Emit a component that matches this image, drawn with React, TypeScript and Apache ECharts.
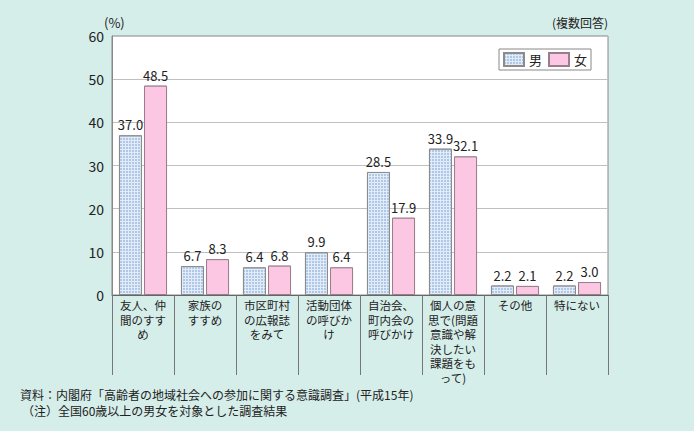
import React, { useEffect, useRef } from "react";
import * as echarts from "echarts";

const categories = [
  "友人、仲\n間のすす\nめ",
  "家族の\nすすめ",
  "市区町村\nの広報誌\nをみて",
  "活動団体\nの呼びか\nけ",
  "自治会、\n町内会の\n呼びかけ",
  "個人の意\n思で(問題\n意識や解\n決したい\n課題をも\nって)",
  "その他",
  "特にない",
];
const maleValues = [37.0, 6.7, 6.4, 9.9, 28.5, 33.9, 2.2, 2.2];
const femaleValues = [48.5, 8.3, 6.8, 6.4, 17.9, 32.1, 2.1, 3.0];
const seriesNames = ["男", "女"];
const yTicks = { min: 0, max: 60, interval: 10 };
const unitLabel = "(%)";
const noteLabel = "(複数回答)";
const sourceLines = [
  "資料：内閣府「高齢者の地域社会への参加に関する意識調査」(平成15年)",
  "（注）全国60歳以上の男女を対象とした調査結果",
];

const FONT = '"Noto Sans CJK JP", "Noto Sans", sans-serif';

export default function App() {
  const ref = useRef<HTMLDivElement>(null);
  useEffect(() => {
    if (!ref.current) return;
    const chart = echarts.init(ref.current, undefined, { renderer: "svg" });
    const labelStyle = {
      show: true,
      position: "top" as const,
      distance: 4,
      color: "#222",
      fontSize: 13,
      fontFamily: FONT,
      formatter: (p: any) => Number(p.value).toFixed(1),
    };
    const femaleColor = "#fcc7e3";
    chart.setOption({
      animation: false,
      backgroundColor: "#d6eeea",
      aria: { enabled: true, decal: { show: true } },
      textStyle: { fontFamily: FONT },
      grid: {
        left: 112,
        top: 36,
        width: 496,
        height: 259,
        show: true,
        backgroundColor: "#ffffff",
        borderColor: "#888888",
        borderWidth: 1,
      },
      legend: {
        show: true,
        right: 103,
        top: 49,
        orient: "horizontal",
        icon: "rect",
        backgroundColor: "#ffffff",
        borderColor: "#888888",
        borderWidth: 1,
        borderRadius: 0,
        padding: [3, 4, 3, 4],
        itemWidth: 20,
        itemHeight: 13,
        itemGap: 6,
        textStyle: { fontSize: 13, color: "#222", fontFamily: FONT },
        data: seriesNames,
      },
      xAxis: {
        type: "category",
        data: categories,
        boundaryGap: true,
        axisLine: { show: true, lineStyle: { color: "#666666", width: 1 } },
        axisTick: { show: true, length: 80, lineStyle: { color: "#777777" } },
        axisLabel: {
          interval: 0,
          margin: 3,
          fontSize: 11.5,
          lineHeight: 14.5,
          color: "#222",
          fontFamily: FONT,
          verticalAlign: "top",
        },
      },
      yAxis: {
        type: "value",
        min: yTicks.min,
        max: yTicks.max,
        interval: yTicks.interval,
        axisLine: { show: true, lineStyle: { color: "#888888" } },
        axisTick: { show: false },
        axisLabel: { margin: 8, fontSize: 14, color: "#222", fontFamily: FONT },
        splitLine: { show: true, lineStyle: { color: "#c0c0c0" } },
      },
      series: [
        {
          name: seriesNames[0],
          type: "bar",
          data: maleValues,
          barWidth: 23,
          barGap: "9%",
          itemStyle: {
            color: "#e2ecf8",
            borderColor: "#8c8c8c",
            borderWidth: 1,
            decal: {
              symbol: "rect",
              symbolSize: 1,
              color: "#b0c8e8",
              dashArrayX: [2, 1],
              dashArrayY: [2, 1],
              rotation: 0,
            },
          },
          label: labelStyle,
        },
        {
          name: seriesNames[1],
          type: "bar",
          data: femaleValues,
          barWidth: 23,
          itemStyle: {
            color: femaleColor,
            borderColor: "#9a7d8c",
            borderWidth: 1,
            decal: {
              symbol: "rect",
              symbolSize: 1,
              color: femaleColor,
              backgroundColor: femaleColor,
              dashArrayX: [1, 0],
              dashArrayY: [1, 0],
              rotation: 0,
            },
          },
          label: labelStyle,
        },
      ],
      graphic: [
        {
          type: "text",
          left: 104,
          top: 16,
          style: { text: unitLabel, fontSize: 13, fill: "#222", fontFamily: FONT },
        },
        {
          type: "text",
          right: 86,
          top: 16,
          style: { text: noteLabel, fontSize: 12, fill: "#222", fontFamily: FONT },
        },
        {
          type: "text",
          left: 20,
          top: 388,
          style: { text: sourceLines[0], fontSize: 12, fill: "#222", fontFamily: FONT },
        },
        {
          type: "text",
          left: 22,
          top: 404,
          style: { text: sourceLines[1], fontSize: 12, fill: "#222", fontFamily: FONT },
        },
      ],
    });
    return () => chart.dispose();
  }, []);
  return (
    <div
      ref={ref}
      style={{ position: "fixed", left: 0, top: 0, width: 694, height: 431 }}
    />
  );
}
